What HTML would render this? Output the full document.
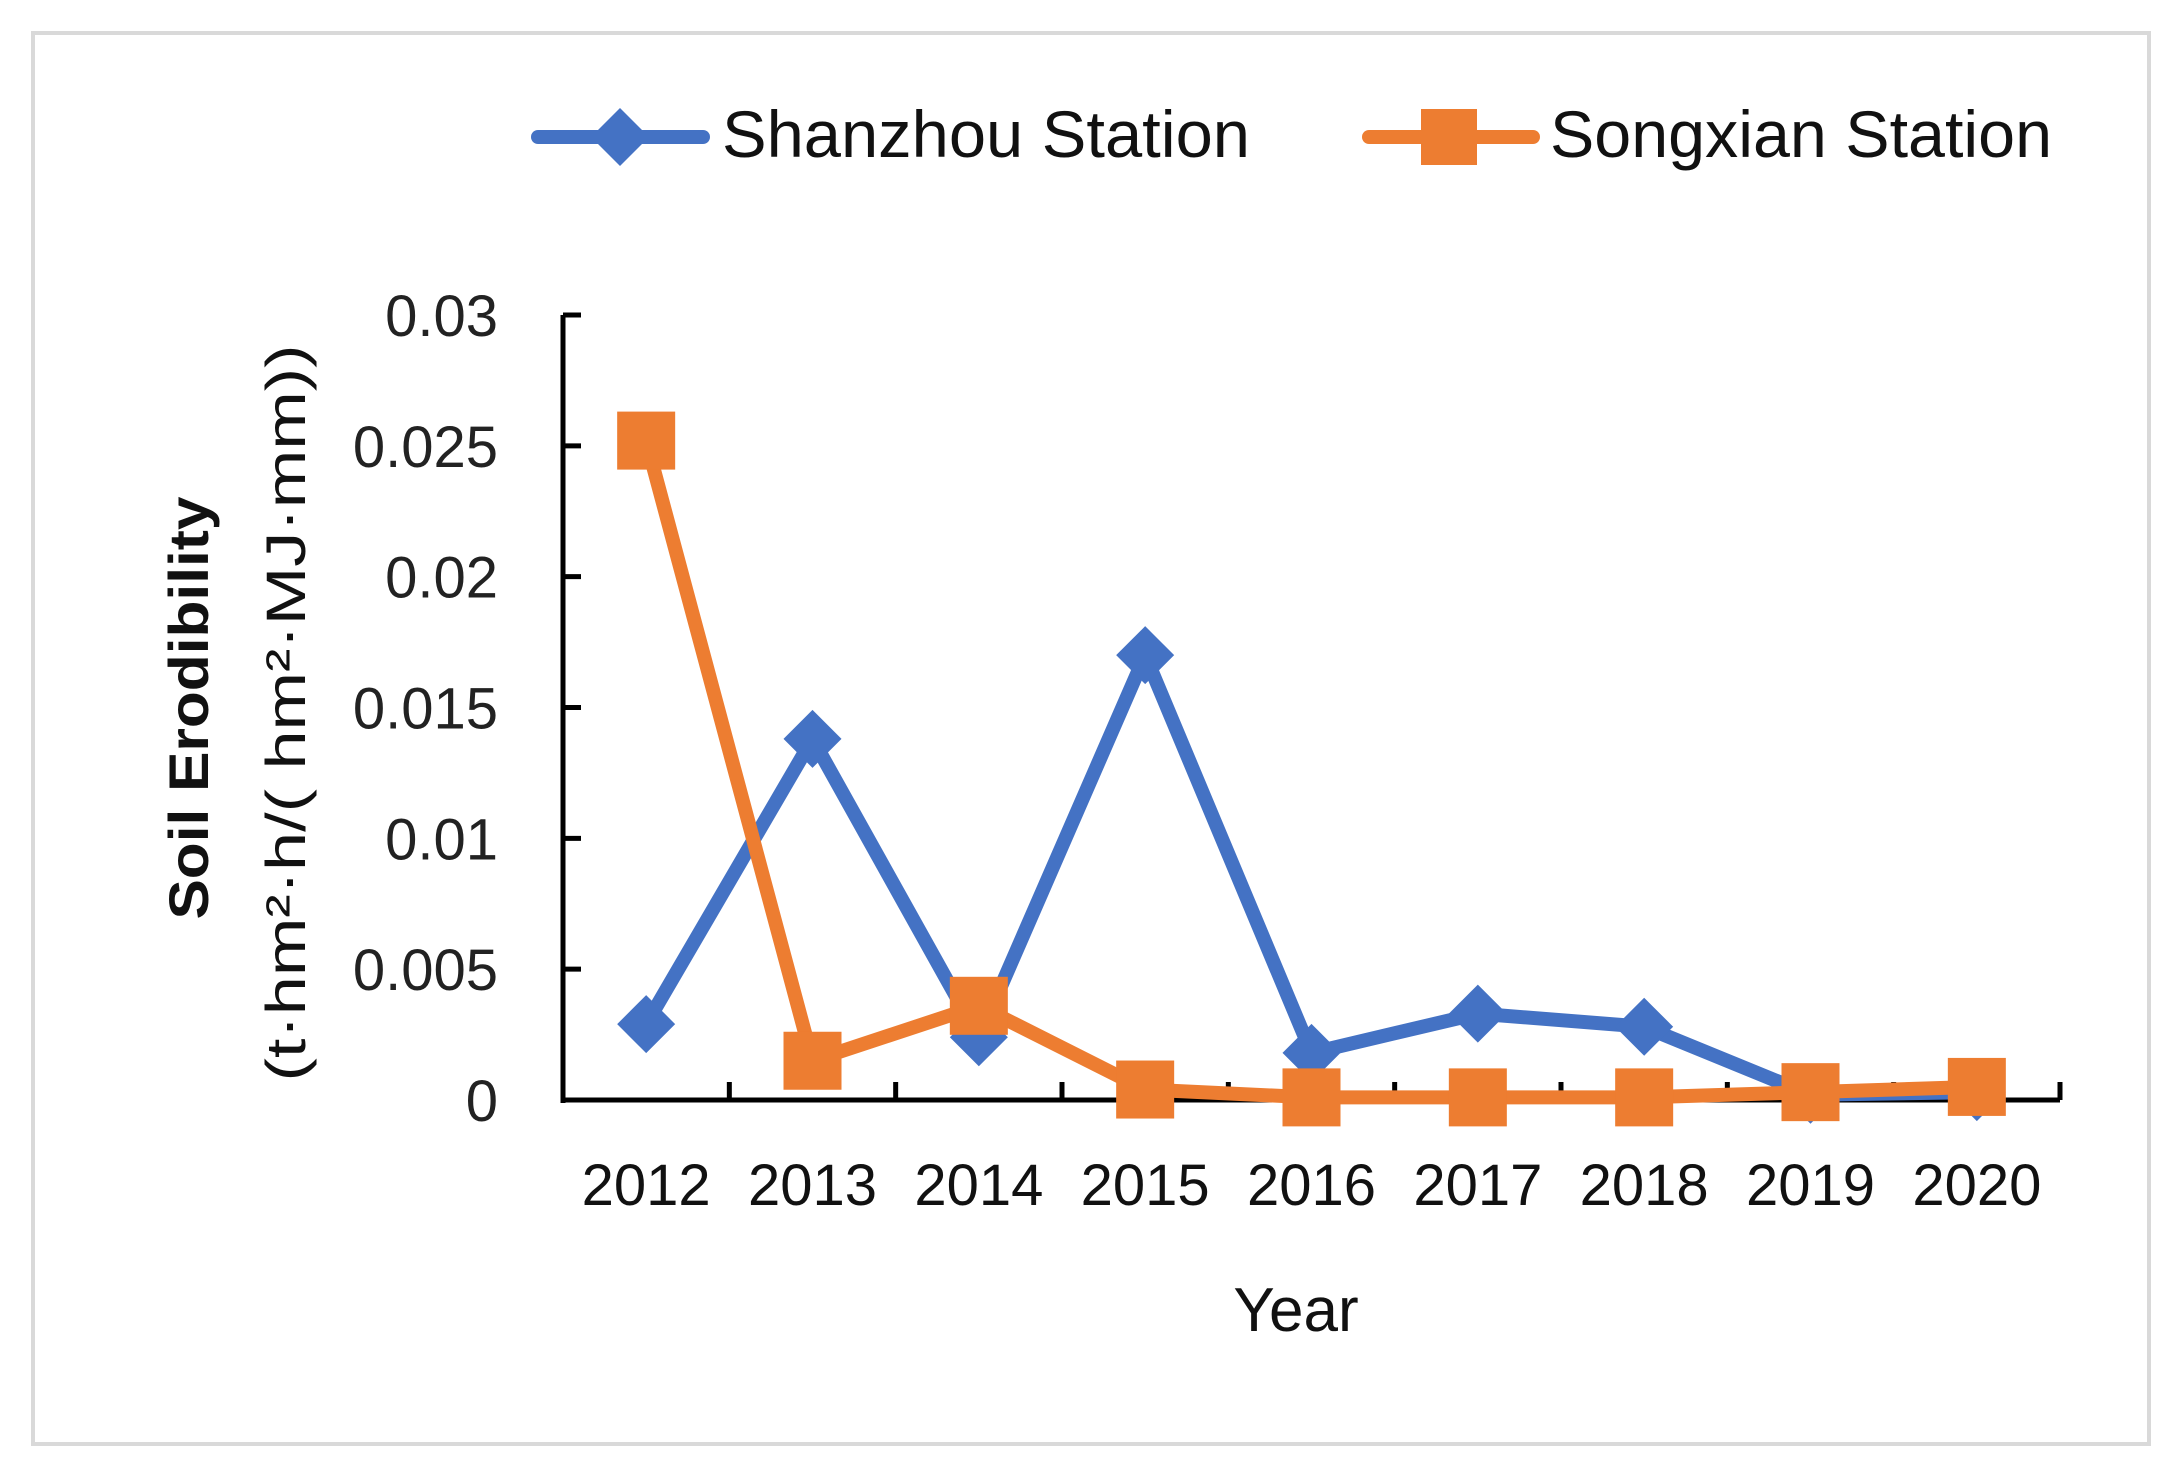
<!DOCTYPE html>
<html><head><meta charset="utf-8"><style>
html,body{margin:0;padding:0;background:#fff;}
svg{display:block;font-family:"Liberation Sans",sans-serif;}
</style></head><body>
<svg id="chart" width="2178" height="1471" viewBox="0 0 2178 1471">
<rect x="33" y="33" width="2116" height="1411" fill="#fff" stroke="#d9d9d9" stroke-width="4"/>
<g id="legend">
 <g>
  <line x1="538" y1="137" x2="703" y2="137" stroke="#4472C4" stroke-width="14" stroke-linecap="round"/>
  <polygon points="620,108 649,137 620,166 591,137" fill="#4472C4"/>
  <text x="722" y="157" font-size="66" fill="#111" textLength="528" lengthAdjust="spacingAndGlyphs">Shanzhou Station</text>
 </g>
 <g>
  <line x1="1369" y1="137" x2="1533" y2="137" stroke="#ED7D31" stroke-width="14" stroke-linecap="round"/>
  <rect x="1421" y="109" width="56" height="56" fill="#ED7D31"/>
  <text x="1550" y="157" font-size="66" fill="#111" textLength="502" lengthAdjust="spacingAndGlyphs">Songxian Station</text>
 </g>
</g>
<g id="axes"></g>
<g id="series"></g>
<text x="1296" y="1331" font-size="62" text-anchor="middle" fill="#111">Year</text>
<text transform="translate(208,708) rotate(-90)" font-size="56" font-weight="bold" text-anchor="middle" fill="#111" textLength="423" lengthAdjust="spacingAndGlyphs">Soil Erodibility</text>
<text transform="translate(305,713) rotate(-90)" font-size="56" text-anchor="middle" fill="#111" textLength="737" lengthAdjust="spacingAndGlyphs">(t·hm²·h/( hm²·MJ·mm))</text>
</svg>
<script>
const categories = ["2012","2013","2014","2015","2016","2017","2018","2019","2020"];
const shanzhou = [0.0029,0.0138,0.0024,0.0170,0.0018,0.0033,0.0028,0.0002,0.0003];
const songxian = [0.0252,0.0015,0.0036,0.0004,0.0001,0.0001,0.0001,0.0003,0.0005];
const yTicks = [0,0.005,0.01,0.015,0.02,0.025,0.03];
const yTickLabels = ["0","0.005","0.01","0.015","0.02","0.025","0.03"];

const NS="http://www.w3.org/2000/svg";
const X0=563, X1=2060, Y0=1100, Y1=315, YMAX=0.03;
const bw=(X1-X0)/categories.length;
function xPos(i){return X0+bw*(i+0.5);}
function yPos(v){return Y0-(v/YMAX)*(Y0-Y1);}
function mk(tag,attrs,parent){const e=document.createElementNS(NS,tag);for(const k in attrs)e.setAttribute(k,attrs[k]);parent.appendChild(e);return e;}
const axes=document.getElementById('axes');
let a=mk('line',{x1:X0,y1:Y1,x2:X0,y2:Y0+3,stroke:'#000','stroke-width':5},axes);


a=mk('line',{x1:X0-2,y1:Y0,x2:X1,y2:Y0,stroke:'#000','stroke-width':5},axes);


yTicks.forEach((v,i)=>{
 const t=mk('line',{x1:X0,y1:yPos(v),x2:X0+18,y2:yPos(v),stroke:'#000','stroke-width':5},axes);
 
 
 const l=mk('text',{x:498,y:yPos(v)+21,'font-size':58,'text-anchor':'end',fill:'#222'},axes);
 l.textContent=yTickLabels[i];
 
 
});
for(let i=1;i<=categories.length;i++){
 const xx=X0+bw*i;
 const t=mk('line',{x1:xx,y1:Y0,x2:xx,y2:Y0-18,stroke:'#000','stroke-width':5},axes);
 
 
}
categories.forEach((c,i)=>{
 const l=mk('text',{x:xPos(i),y:1205,'font-size':58,'text-anchor':'middle',fill:'#111'},axes);
 l.textContent=c;
 
 
});
const series=document.getElementById('series');
function draw(vals,color,kind,name){
 const g=mk('g',{},series);
 
 
 const pl=mk('polyline',{points:vals.map((v,i)=>xPos(i)+','+yPos(v)).join(' '),fill:'none',stroke:color,'stroke-width':14,'stroke-linejoin':'round'},g);
 
 
 vals.forEach((v,i)=>{
  const x=xPos(i),y=yPos(v);let m;
  if(kind==='diamond') m=mk('polygon',{points:`${x},${y-29} ${x+29},${y} ${x},${y+29} ${x-29},${y}`,fill:color},g);
  else m=mk('rect',{x:x-29,y:y-29,width:58,height:58,fill:color},g);
  
  
 });
}
draw(shanzhou,'#4472C4','diamond','shanzhou');
draw(songxian,'#ED7D31','square','songxian');
</script>
</body></html>
